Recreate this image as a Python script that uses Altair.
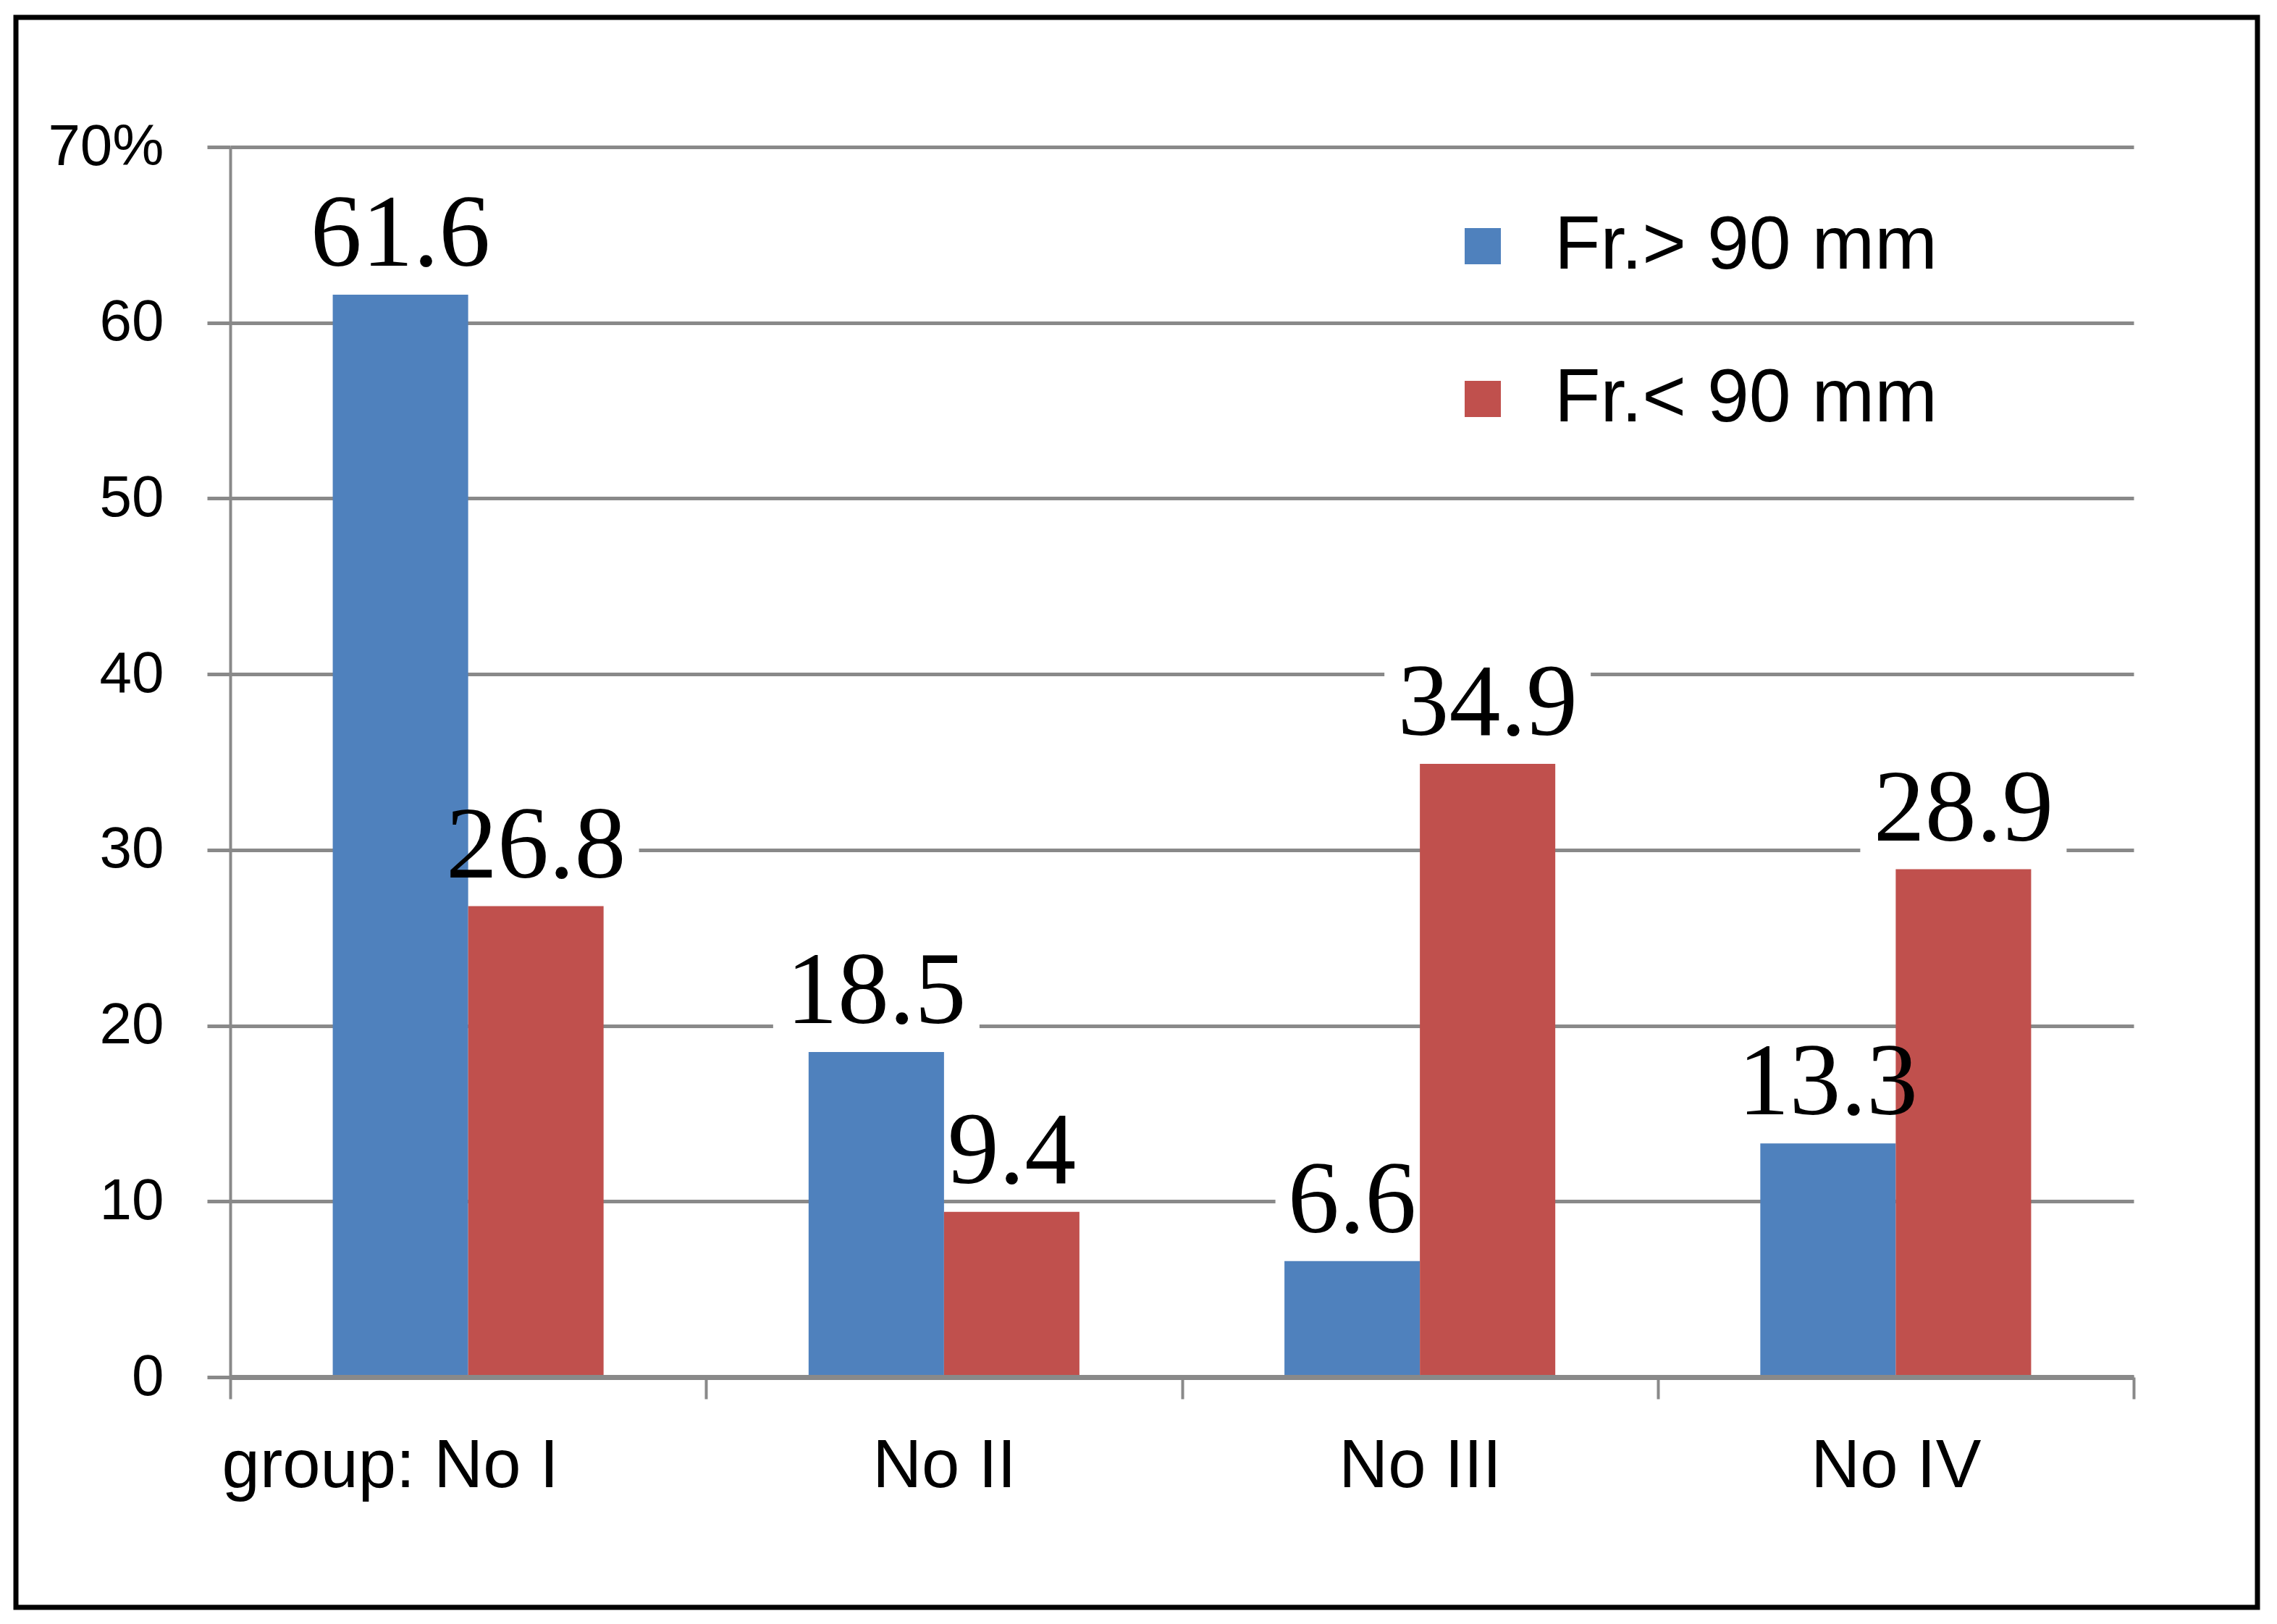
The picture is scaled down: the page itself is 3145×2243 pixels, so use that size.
import altair as alt
import pandas as pd

groups = ["No I", "No II", "No III", "No IV"]
series = ["Fr.> 90 mm", "Fr.< 90 mm"]
gt90 = [61.6, 18.5, 6.6, 13.3]
lt90 = [26.8, 9.4, 34.9, 28.9]
y_ticks = [0, 10, 20, 30, 40, 50, 60, 70]

rows = []
for g, a, b in zip(groups, gt90, lt90):
    rows.append({"group": g, "series": series[0], "value": a, "label": f"{a:.1f}"})
    rows.append({"group": g, "series": series[1], "value": b, "label": f"{b:.1f}"})
df = pd.DataFrame(rows)

W, H = 2629, 1699
GRAY = "#898989"

x_enc = alt.X(
    "group:N", sort=groups,
    scale=alt.Scale(paddingInner=0, paddingOuter=0),
    axis=alt.Axis(
        title=None, labelAngle=0, tickBand="extent", grid=False,
        domainColor=GRAY, domainWidth=7, tickColor=GRAY, tickWidth=4, tickSize=30,
        labelFont="Liberation Sans", labelFontSize=94, labelColor="black",
        labelPadding=47, zindex=1, labelLimit=0,
        labelExpr="datum.label == 'No I' ? 'group: No I' : datum.label",
        labelOffset={"expr": "datum.label == 'No I' ? -108 : 0"},
    ),
)
xo_enc = alt.XOffset("series:N", sort=series,
                     scale=alt.Scale(paddingInner=0, paddingOuter=0.757))
y_enc = alt.Y(
    "value:Q",
    scale=alt.Scale(domain=[0, 70], nice=False),
    axis=alt.Axis(
        title=None, values=y_ticks, grid=True, gridColor=GRAY, gridWidth=5,
        domainColor=GRAY, domainWidth=4, tickColor=GRAY, tickWidth=5, tickSize=32,
        labelFont="Liberation Sans", labelFontSize=80, labelColor="black",
        labelPadding=60, labelLimit=0,
        labelExpr="datum.value == 70 ? '70%' : datum.label",
    ),
)

base = alt.Chart(df)

# white label boxes (drawn under the bars, above the gridlines)
box_base = base.transform_calculate(
    b0="datum.value + 0.75", b1="datum.value + 6.1", n="length(datum.label)"
)
box4 = box_base.transform_filter("datum.n >= 4").mark_bar(
    color="white", width=285
).encode(x=x_enc, xOffset=xo_enc, y=alt.Y("b0:Q"), y2="b1:Q")
box3 = box_base.transform_filter("datum.n < 4").mark_bar(
    color="white", width=212
).encode(x=x_enc, xOffset=xo_enc, y=alt.Y("b0:Q"), y2="b1:Q")

bars = base.mark_bar().encode(
    x=x_enc, xOffset=xo_enc, y=y_enc,
    color=alt.Color(
        "series:N", sort=series,
        scale=alt.Scale(domain=series, range=["#4F81BD", "#C0504D"]),
        legend=alt.Legend(
            title=None, orient="none", legendX=1678, legendY=85,
            symbolType="square", symbolSize=2500, symbolStrokeWidth=0,
            labelFont="Liberation Sans", labelFontSize=104, labelColor="black",
            labelOffset=47, rowPadding=107, labelLimit=0,
        ),
    ),
)

labels = base.mark_text(
    font="Liberation Serif", fontSize=142, baseline="alphabetic", dy=-40,
    color="black",
).encode(x=x_enc, xOffset=xo_enc, y=y_enc, text="label:N")

frame = alt.Chart(alt.Data(values=[{"a": 1}])).mark_rect(
    filled=False, stroke="black", strokeWidth=7
).encode(
    x=alt.value(-296), x2=alt.value(2800),
    y=alt.value(-179), y2=alt.value(2017),
)

chart = alt.layer(box4, box3, bars, labels, frame).properties(
    width=W, height=H,
    autosize=alt.AutoSizeParams(type="none"),
    padding={"left": 310, "top": 195, "right": 180, "bottom": 335},
    background="white",
).configure_view(stroke=None)

chart.save("out.html", embed_options={"renderer": "svg", "actions": False})
